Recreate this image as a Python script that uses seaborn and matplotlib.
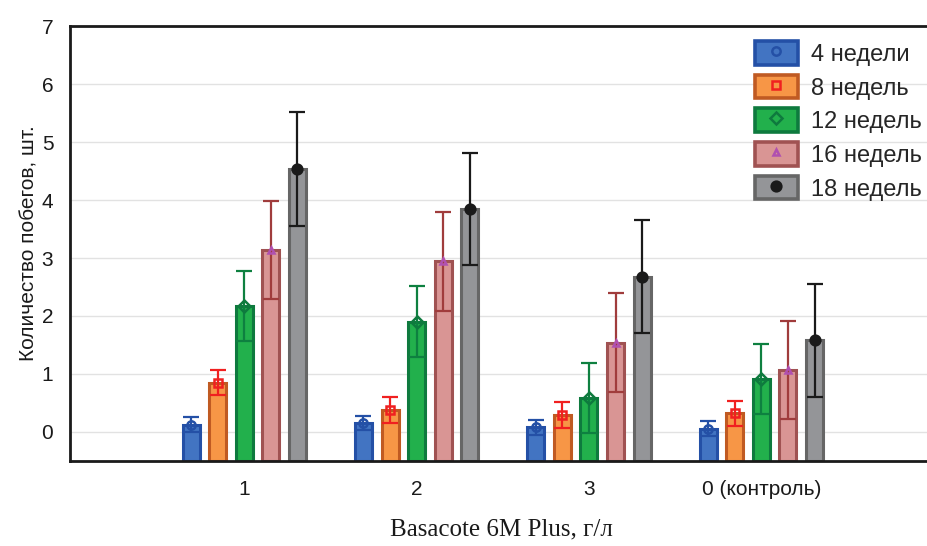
import matplotlib
matplotlib.use("Agg")
import matplotlib.pyplot as plt
from matplotlib.patches import Patch
from matplotlib.lines import Line2D
import numpy as np
import pandas as pd
import seaborn as sns

# data
doses = ["1", "2", "3", "0 (контроль)"]
periods = ["4 недели", "8 недель", "12 недель", "16 недель", "18 недель"]
means = {
    "4 недели": [0.12, 0.15, 0.08, 0.05],
    "8 недель": [0.85, 0.38, 0.29, 0.32],
    "12 недель": [2.17, 1.90, 0.58, 0.91],
    "16 недель": [3.14, 2.94, 1.54, 1.07],
    "18 недель": [4.54, 3.85, 2.68, 1.58],
}
errs = {
    "4 недели": [0.13, 0.12, 0.13, 0.13],
    "8 недель": [0.21, 0.22, 0.22, 0.22],
    "12 недель": [0.60, 0.61, 0.60, 0.60],
    "16 недель": [0.85, 0.85, 0.85, 0.85],
    "18 недель": [0.98, 0.97, 0.97, 0.97],
}

fills = ["#4274C2", "#F79646", "#22B04C", "#D99594", "#949598"]
edges = ["#2450A6", "#C05A22", "#0E7A3E", "#A05252", "#666666"]
err_cols = ["#2450A6", "#F02020", "#0E8040", "#A03C3C", "#1A1A1A"]
mk_shapes = ["o", "s", "D", "^", "o"]
mk_faces = ["none", "none", "none", "none", "#1A1A1A"]
mk_edges = ["#2450A6", "#F02020", "#0E7A3E", "#B050B0", "#1A1A1A"]
mk_sizes = [6, 6, 6, 5, 7]

BOTTOM = -0.5

df = pd.DataFrame([
    {"dose": d, "period": p, "value": means[p][i]}
    for p in periods for i, d in enumerate(doses)
])

sns.set_style("white")
plt.rcParams["font.family"] = ["Liberation Sans", "DejaVu Sans"]

fig = plt.figure(figsize=(9.27, 5.46), dpi=100)
ax = fig.add_axes([0.0755, 0.156, 0.93, 0.796])

ax.set_axisbelow(True)
ax.grid(True, color="#E2E2E2", linewidth=1.0)

sns.barplot(data=df, x="dose", y="value", hue="period", order=doses,
            hue_order=periods, palette=fills, errorbar=None, width=0.77,
            gap=0.36, linewidth=2.2, legend=False, ax=ax)

# bars start at the bottom of the axis, not at zero; recolour edges
bar_groups = list(ax.containers)
for j, cont in enumerate(bar_groups):
    p = periods[j]
    for i, bar in enumerate(cont):
        bar.set_y(BOTTOM)
        bar.set_height(means[p][i] - BOTTOM)
        bar.set_edgecolor(edges[j])
        bar.set_facecolor(fills[j])
    xs = [b.get_x() + b.get_width() / 2 for b in cont]
    ax.errorbar(xs, means[p], yerr=errs[p], fmt="none",
                ecolor=err_cols[j], elinewidth=1.6, capsize=6, capthick=1.6,
                zorder=4)
    ax.plot(xs, means[p], linestyle="none", marker=mk_shapes[j],
            markersize=mk_sizes[j], markerfacecolor=mk_faces[j],
            markeredgecolor=mk_edges[j], markeredgewidth=1.8, zorder=5)

ax.set_ylim(BOTTOM, 7)
ax.set_xlim(-1.01, 3.99)
ax.set_yticks(range(0, 8))

for side in ["left", "bottom", "top"]:
    ax.spines[side].set_visible(True)
    ax.spines[side].set_color("#1A1A1A")
    ax.spines[side].set_linewidth(2.0)
ax.spines["right"].set_visible(False)

ax.tick_params(axis="both", direction="in", length=4, width=1.5,
               color="#1A1A1A", labelsize=15, pad=12, labelcolor="#1A1A1A")
ax.tick_params(axis="x", pad=14)

ax.set_ylabel("Количество побегов, шт.", fontsize=15, labelpad=2,
              color="#1A1A1A")
ax.set_xlabel("Basacote 6M Plus, г/л", fontsize=18, labelpad=14,
              family=["Liberation Serif", "DejaVu Serif"], color="#1A1A1A")

handles = []
for j in range(len(periods)):
    box = Patch(facecolor=fills[j], edgecolor=edges[j], linewidth=2.6)
    mk = Line2D([], [], linestyle="none", marker=mk_shapes[j],
                markersize=mk_sizes[j], markerfacecolor=mk_faces[j],
                markeredgecolor=mk_edges[j], markeredgewidth=1.8)
    handles.append((box, mk))

fig.legend(handles, periods, loc="upper right", bbox_to_anchor=(1.012, 0.955),
           frameon=False, fontsize=17, handlelength=1.8, handleheight=1.15,
           labelspacing=0.38, handletextpad=0.55, borderpad=0.2)

fig.savefig("out.png", dpi=100)
